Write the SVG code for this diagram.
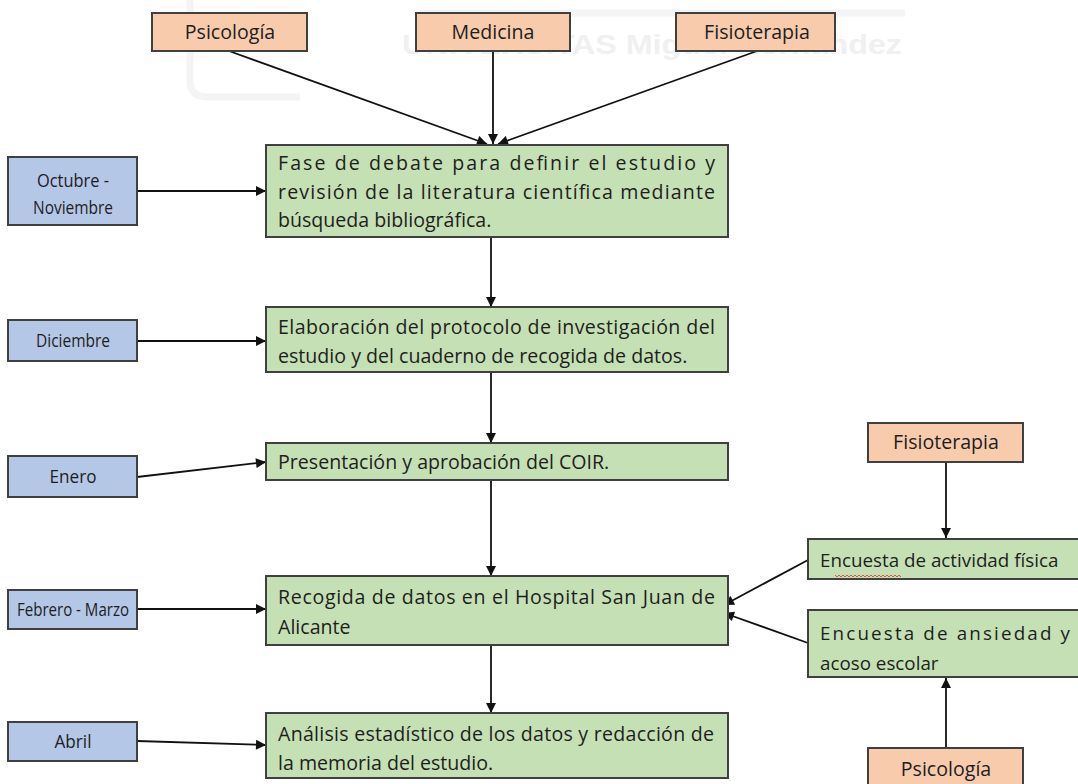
<svg xmlns="http://www.w3.org/2000/svg" width="1078" height="784" viewBox="0 0 1078 784">
<style>
.peach{fill:#f8cbad;stroke:#404040;stroke-width:2}
.blue{fill:#b4c7e7;stroke:#404040;stroke-width:2}
.green{fill:#c5e0b4;stroke:#404040;stroke-width:2}
text{font-family:"Open Sans","Liberation Sans",sans-serif;font-size:19.6px;fill:#1e1e1e}
.c{text-anchor:middle}
.l{font-size:18px}
.r{font-size:18.8px}
.wm{font-family:"Liberation Sans",sans-serif;font-weight:bold;fill:#f0f0f0;font-size:28px}
.logo{fill:none;stroke:#f4f4f4;stroke-width:7}
.conn line{stroke:#111;stroke-width:1.8;marker-end:url(#ah)}
</style>
<defs>
<marker id="ah" viewBox="0 0 10 10" refX="10" refY="5" markerWidth="12" markerHeight="10" markerUnits="userSpaceOnUse" orient="auto">
<path d="M0,0 L10,5 L0,10 z" fill="#111"/>
</marker>
</defs>
<rect width="1078" height="784" fill="#fff"/>
<g id="watermark">
<path class="logo" d="M190,0 V80 Q190,97 207,97 H300"/>
<path class="logo" d="M420,13 H905"/>
<text class="wm" x="402" y="54" textLength="500" lengthAdjust="spacingAndGlyphs">UNIVERSITAS Miguel Hernández</text>
</g>
<g class="conn">
<line x1="229" y1="51" x2="487" y2="144"/>
<line x1="493" y1="51" x2="493" y2="144"/>
<line x1="757" y1="51" x2="498" y2="144"/>
<line x1="137" y1="191" x2="266" y2="191"/>
<line x1="491" y1="237" x2="491" y2="307"/>
<line x1="137" y1="341" x2="266" y2="341"/>
<line x1="491" y1="372" x2="491" y2="443"/>
<line x1="137" y1="477" x2="266" y2="462"/>
<line x1="491" y1="480" x2="491" y2="576"/>
<line x1="137" y1="609" x2="266" y2="609"/>
<line x1="491" y1="645" x2="491" y2="713"/>
<line x1="137" y1="741" x2="266" y2="745"/>
<line x1="946" y1="462" x2="946" y2="538"/>
<line x1="808" y1="560" x2="724" y2="605"/>
<line x1="808" y1="643" x2="724" y2="613"/>
<line x1="946" y1="748" x2="946" y2="678"/>
</g>
<g id="n-psico-top"><rect class="peach" x="152" y="13" width="155" height="38"/><text class="c" x="230" y="39">Psicología</text></g>
<g id="n-medicina"><rect class="peach" x="416" y="13" width="154" height="38"/><text class="c" x="493" y="39">Medicina</text></g>
<g id="n-fisio-top"><rect class="peach" x="676" y="13" width="159" height="38"/><text class="c" x="757" y="39">Fisioterapia</text></g>
<g id="n-oct"><rect class="blue" x="8" y="157" width="129" height="68"/><text class="c l" x="73" y="187" textLength="72" lengthAdjust="spacingAndGlyphs">Octubre -</text><text class="c l" x="73" y="214" textLength="80" lengthAdjust="spacingAndGlyphs">Noviembre</text></g>
<g id="n-dic"><rect class="blue" x="8" y="320" width="129" height="41"/><text class="c l" x="73" y="347" textLength="74" lengthAdjust="spacingAndGlyphs">Diciembre</text></g>
<g id="n-ene"><rect class="blue" x="8" y="456" width="129" height="41"/><text class="c l" x="73" y="483" textLength="47" lengthAdjust="spacingAndGlyphs">Enero</text></g>
<g id="n-feb"><rect class="blue" x="8" y="590" width="129" height="39"/><text class="c l" x="73" y="616" textLength="112" lengthAdjust="spacingAndGlyphs">Febrero - Marzo</text></g>
<g id="n-abr"><rect class="blue" x="8" y="722" width="129" height="39"/><text class="c l" x="73" y="748" textLength="37" lengthAdjust="spacingAndGlyphs">Abril</text></g>
<g id="n-fase1"><rect class="green" x="266" y="145" width="462" height="92"/>
<text x="278" y="170" textLength="437" lengthAdjust="spacing">Fase de debate para definir el estudio y</text>
<text x="278" y="199" textLength="437" lengthAdjust="spacing">revisión de la literatura científica mediante</text>
<text x="278" y="227">búsqueda bibliográfica.</text></g>
<g id="n-fase2"><rect class="green" x="266" y="307" width="462" height="65"/>
<text x="278" y="334" textLength="437" lengthAdjust="spacing">Elaboración del protocolo de investigación del</text>
<text x="278" y="363">estudio y del cuaderno de recogida de datos.</text></g>
<g id="n-fase3"><rect class="green" x="266" y="443" width="462" height="37"/>
<text x="278" y="469">Presentación y aprobación del COIR.</text></g>
<g id="n-fase4"><rect class="green" x="266" y="576" width="462" height="69"/>
<text x="278" y="604" textLength="437" lengthAdjust="spacing">Recogida de datos en el Hospital San Juan de</text>
<text x="278" y="634">Alicante</text></g>
<g id="n-fase5"><rect class="green" x="266" y="713" width="462" height="65"/>
<text x="278" y="741" textLength="436" lengthAdjust="spacing">Análisis estadístico de los datos y redacción de</text>
<text x="278" y="770">la memoria del estudio.</text></g>
<g id="n-fisio-r"><rect class="peach" x="868" y="423" width="155" height="39"/><text class="c" x="946" y="449">Fisioterapia</text></g>
<g id="n-enc1"><rect class="green" x="808" y="539" width="275" height="40"/>
<text class="r" x="820" y="567">Encuesta de actividad física</text>
<path d="M835,575 l2,2 l2,-2 l2,2 l2,-2 l2,2 l2,-2 l2,2 l2,-2 l2,2 l2,-2 l2,2 l2,-2 l2,2 l2,-2 l2,2 l2,-2 l2,2 l2,-2 l2,2 l2,-2 l2,2 l2,-2 l2,2 l2,-2 l2,2 l2,-2 l2,2 l2,-2 l2,2 l2,-2 l2,2 l2,-2 l2,2" fill="none" stroke="#e03030" stroke-width="0.8"/></g>
<g id="n-enc2"><rect class="green" x="808" y="610" width="275" height="67"/>
<text class="r" x="820" y="640" textLength="250" lengthAdjust="spacing">Encuesta de ansiedad y</text>
<text class="r" x="820" y="670">acoso escolar</text></g>
<g id="n-psico-r"><rect class="peach" x="868" y="748" width="155" height="44"/><text class="c" x="946" y="776">Psicología</text></g>
</svg>
